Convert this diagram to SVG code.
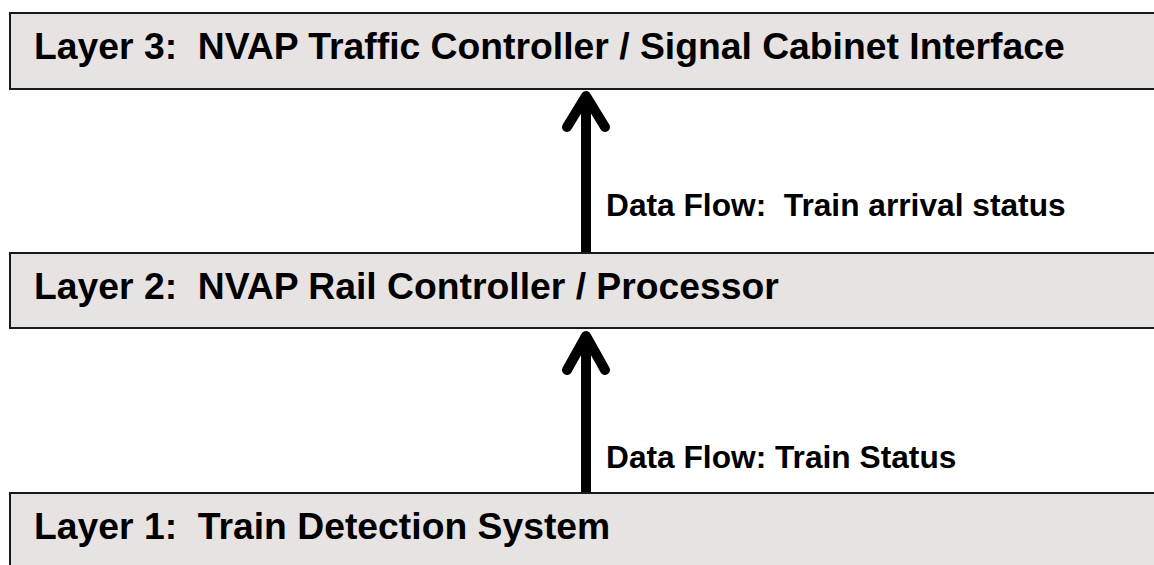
<svg xmlns="http://www.w3.org/2000/svg" width="1154" height="565" viewBox="0 0 1154 565">
<style>
.box{fill:#e7e3e2;stroke:#1a1a1a;stroke-width:2}
.t{font-family:"Liberation Sans",Arial,sans-serif;font-weight:bold;font-size:37.3px;fill:#000;white-space:pre}
.l{font-family:"Liberation Sans",Arial,sans-serif;font-weight:bold;font-size:31.7px;fill:#000;white-space:pre}
.arr{fill:none;stroke:#000;stroke-width:10;stroke-linecap:round;stroke-linejoin:round}
.shaft{fill:none;stroke:#000;stroke-width:10}
</style>
<rect width="1154" height="565" fill="#fff"/>
<g id="layer3">
<rect class="box" x="10" y="13" width="1160" height="76"/>
<text class="t" x="34" y="59" xml:space="preserve">Layer 3:  NVAP Traffic Controller / Signal Cabinet Interface</text>
</g>
<g id="layer2">
<rect class="box" x="10" y="253" width="1160" height="75"/>
<text class="t" x="34" y="299" xml:space="preserve">Layer 2:  NVAP Rail Controller / Processor</text>
</g>
<g id="layer1">
<rect class="box" x="10" y="493" width="1160" height="90"/>
<text class="t" x="34" y="539" xml:space="preserve">Layer 1:  Train Detection System</text>
</g>
<g id="connectors">
<line class="shaft" x1="586" y1="252" x2="586" y2="100"/>
<polyline class="arr" points="567,127 586,96 605,127"/>
<text class="l" x="606" y="216" xml:space="preserve">Data Flow:  Train arrival status</text>
<line class="shaft" x1="586" y1="492" x2="586" y2="340"/>
<polyline class="arr" points="567,370 586,336 605,370"/>
<text class="l" x="606" y="468">Data Flow: Train Status</text>
</g>
</svg>
